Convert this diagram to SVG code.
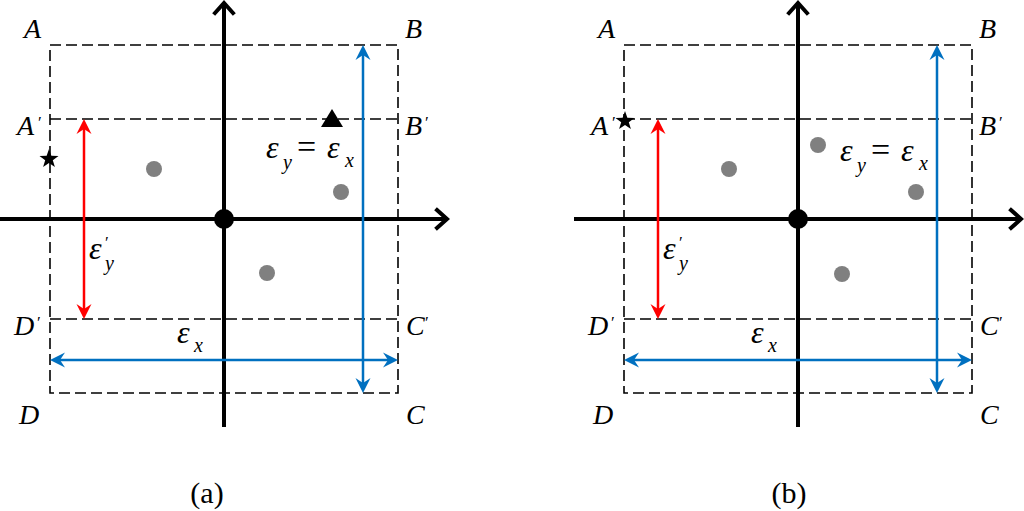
<svg xmlns="http://www.w3.org/2000/svg" xmlns:xlink="http://www.w3.org/1999/xlink" width="1024" height="511" viewBox="0 0 1024 511">
<style>
.dash{fill:none;stroke:#000;stroke-width:1.6;stroke-dasharray:11 5}
.axis{fill:none;stroke:#000;stroke-width:4}
.head{fill:none;stroke:#000;stroke-width:4;stroke-linecap:square}
.blue{stroke:#0070C0;stroke-width:2.5;fill:none}
.red{stroke:#FF0000;stroke-width:2.5;fill:none}
.dot{fill:#808080}
</style>
<defs>
<marker id="mb" viewBox="-8 -8 16 16" refX="0" refY="0" markerWidth="16" markerHeight="16" markerUnits="userSpaceOnUse" orient="auto-start-reverse">
<path d="M8,0 L-7,-7.5 L-2,0 L-7,7.5 Z" fill="#0070C0"/>
</marker>
<marker id="mr" viewBox="-8 -8 16 16" refX="0" refY="0" markerWidth="16" markerHeight="16" markerUnits="userSpaceOnUse" orient="auto-start-reverse">
<path d="M8,0 L-7,-7.5 L-2,0 L-7,7.5 Z" fill="#FF0000"/>
</marker>
<path id="star" d="M0,-10 L2.35,-3.2 L9.5,-3.1 L3.8,1.2 L5.9,8.1 L0,4 L-5.9,8.1 L-3.8,1.2 L-9.5,-3.1 L-2.35,-3.2 Z" fill="#000"/>
</defs>

<!-- Panel (a) -->
<g id="panel-a">
  <g id="a-regions">
    <rect class="dash" x="50" y="45" width="348" height="348"/>
    <line class="dash" x1="50" y1="119" x2="398" y2="119"/>
    <line class="dash" x1="50" y1="319" x2="398" y2="319"/>
  </g>
  <g id="a-axes">
    <line class="axis" x1="0" y1="219" x2="446" y2="219"/>
    <path class="head" d="M437,210 L447,219 L437,228"/>
    <line class="axis" x1="224" y1="4" x2="224" y2="427"/>
    <path class="head" d="M215,13 L224,3 L233,13"/>
  </g>
  <g id="a-connectors">
    <line class="red" x1="84" y1="127" x2="84" y2="311" marker-start="url(#mr)" marker-end="url(#mr)"/>
    <line class="blue" x1="363" y1="53" x2="363" y2="385" marker-start="url(#mb)" marker-end="url(#mb)"/>
    <line class="blue" x1="58" y1="360" x2="390" y2="360" marker-start="url(#mb)" marker-end="url(#mb)"/>
  </g>
  <g id="a-points">
    <circle cx="224" cy="219" r="10" fill="#000"/>
    <circle class="dot" cx="154" cy="169" r="8"/>
    <circle class="dot" cx="341" cy="192" r="8"/>
    <circle class="dot" cx="267" cy="273" r="8"/>
    <polygon points="332,109 321,127 343,127" fill="#000"/>
    <use xlink:href="#star" x="49" y="159"/>
  </g>
  <g id="a-labels" font-family="'Liberation Serif', 'Times New Roman', serif" fill="#000">
    <g font-style="italic" font-size="28">
      <text x="24" y="38">A</text>
      <text x="405" y="38">B</text>
      <text x="17" y="135">A</text>
      <text x="405" y="135">B</text>
      <text x="14" y="335">D</text>
      <text x="406" y="335">C</text>
      <text x="19" y="424">D</text>
      <text x="406" y="424">C</text>
    </g>
    <g font-size="17">
      <text x="38" y="128">′</text>
      <text x="425" y="128">′</text>
      <text x="37" y="328">′</text>
      <text x="425" y="328">′</text>
      <text x="105" y="248">′</text>
    </g>
    <g font-style="italic" font-size="32">
      <text x="266" y="158">ε</text>
      <text x="297" y="158" font-style="normal" font-size="34">=</text>
      <text x="327" y="158">ε</text>
      <text x="89" y="259">ε</text>
      <text x="177" y="343">ε</text>
    </g>
    <g font-style="italic" font-size="20">
      <text x="283" y="169">y</text>
      <text x="345" y="167">x</text>
      <text x="105" y="270">y</text>
      <text x="194" y="352">x</text>
    </g>
    <text x="207" y="503" font-size="30" text-anchor="middle">(a)</text>
  </g>
</g>

<!-- Panel (b) -->
<g id="panel-b">
  <g id="b-regions">
    <rect class="dash" x="624" y="45" width="348" height="348"/>
    <line class="dash" x1="624" y1="119" x2="972" y2="119"/>
    <line class="dash" x1="624" y1="319" x2="972" y2="319"/>
  </g>
  <g id="b-axes">
    <line class="axis" x1="574" y1="219" x2="1020" y2="219"/>
    <path class="head" d="M1011,210 L1021,219 L1011,228"/>
    <line class="axis" x1="798" y1="4" x2="798" y2="427"/>
    <path class="head" d="M789,13 L798,3 L807,13"/>
  </g>
  <g id="b-connectors">
    <line class="red" x1="658" y1="127" x2="658" y2="311" marker-start="url(#mr)" marker-end="url(#mr)"/>
    <line class="blue" x1="937" y1="53" x2="937" y2="385" marker-start="url(#mb)" marker-end="url(#mb)"/>
    <line class="blue" x1="632" y1="360" x2="964" y2="360" marker-start="url(#mb)" marker-end="url(#mb)"/>
  </g>
  <g id="b-points">
    <circle cx="798" cy="219" r="10" fill="#000"/>
    <circle class="dot" cx="818" cy="145" r="8"/>
    <circle class="dot" cx="729" cy="169" r="8"/>
    <circle class="dot" cx="916" cy="192" r="8"/>
    <circle class="dot" cx="842" cy="274" r="8"/>
    <use xlink:href="#star" x="625" y="121"/>
  </g>
  <g id="b-labels" font-family="'Liberation Serif', 'Times New Roman', serif" fill="#000">
    <g font-style="italic" font-size="28">
      <text x="598" y="38">A</text>
      <text x="979" y="38">B</text>
      <text x="591" y="135">A</text>
      <text x="979" y="135">B</text>
      <text x="588" y="335">D</text>
      <text x="980" y="335">C</text>
      <text x="593" y="424">D</text>
      <text x="980" y="424">C</text>
    </g>
    <g font-size="17">
      <text x="612" y="128">′</text>
      <text x="999" y="128">′</text>
      <text x="611" y="328">′</text>
      <text x="999" y="328">′</text>
      <text x="679" y="248">′</text>
    </g>
    <g font-style="italic" font-size="32">
      <text x="840" y="161">ε</text>
      <text x="871" y="161" font-style="normal" font-size="34">=</text>
      <text x="901" y="161">ε</text>
      <text x="663" y="259">ε</text>
      <text x="751" y="343">ε</text>
    </g>
    <g font-style="italic" font-size="20">
      <text x="857" y="172">y</text>
      <text x="919" y="170">x</text>
      <text x="679" y="270">y</text>
      <text x="768" y="352">x</text>
    </g>
    <text x="789" y="503" font-size="30" text-anchor="middle">(b)</text>
  </g>
</g>
</svg>
